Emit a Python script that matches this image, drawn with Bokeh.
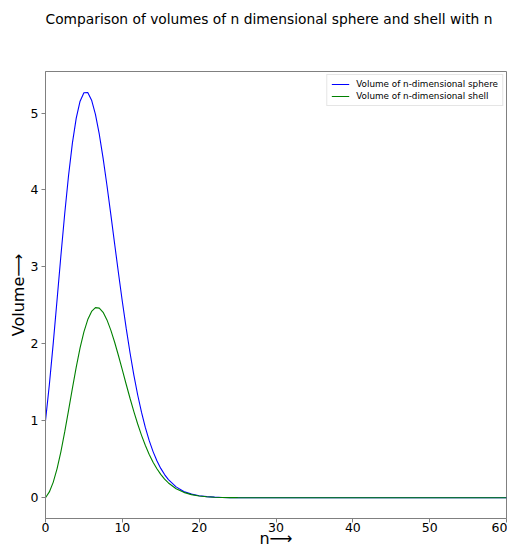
from bokeh.plotting import figure
from bokeh.models import Range1d, Legend, LegendItem, FixedTicker, Title
from bokeh.embed import file_html
from bokeh.resources import INLINE

# dimension n
n = [0, 0.5, 1, 1.5, 2, 2.5, 3, 3.5, 4, 4.5, 5, 5.5, 6, 6.5, 7, 7.5, 8, 8.5, 9, 9.5,
     10, 10.5, 11, 11.5, 12, 12.5, 13, 13.5, 14, 14.5, 15, 15.5, 16, 17, 18, 19, 20,
     21, 22, 23, 24, 25, 30, 40, 50, 60]
sphere = [1.0, 1.4688, 2.0, 2.5675, 3.1416, 3.6916, 4.1888, 4.6093, 4.9348, 5.1545,
          5.2638, 5.2659, 5.1677, 4.9828, 4.7248, 4.4117, 4.0587, 3.6834, 3.2985, 2.9179,
          2.5502, 2.2042, 1.8841, 1.5941, 1.3353, 1.1080, 0.9106, 0.7419, 0.5993, 0.4801,
          0.3814, 0.3008, 0.2353, 0.1409, 0.0821, 0.0466, 0.0258, 0.0139, 0.0073, 0.0038,
          0.0019, 0.0009, 0.0, 0.0, 0.0, 0.0]
shell = [0.0, 0.0754, 0.2, 0.3754, 0.5969, 0.8550, 1.1352, 1.4215, 1.6971, 1.9464,
         2.1555, 2.3159, 2.4216, 2.4705, 2.4649, 2.4101, 2.3114, 2.1791, 2.0207, 1.8456,
         1.6609, 1.4750, 1.2929, 1.1195, 0.9582, 0.8111, 0.6791, 0.5630, 0.4622, 0.3759,
         0.3029, 0.2421, 0.1917, 0.1174, 0.0698, 0.0403, 0.0227, 0.0124, 0.0066, 0.0035,
         0.0017, 0.0008, 0.0, 0.0, 0.0, 0.0]
x_ticks = [0, 10, 20, 30, 40, 50, 60]
y_ticks = [0, 1, 2, 3, 4, 5]

FONT = "DejaVu Sans"

p = figure(width=507, height=550, output_backend="svg", toolbar_location=None,
           x_range=Range1d(0, 60), y_range=Range1d(-0.27, 5.54),
           min_border_left=45, min_border_right=1, min_border_top=71, min_border_bottom=29)

p.title.text = "Comparison of volumes of n dimensional sphere and shell with n"
p.title.text_font = FONT
p.title.text_font_size = "13.8px"
p.title.text_font_style = "normal"
p.title.text_color = "black"
p.title.align = "left"
p.title.standoff = 0
p.title.offset = 0

# empty spacer between the title and the plot frame
spacer = Title(text=" ", text_font_size="39px", standoff=0)
p.add_layout(spacer, "above")

r1 = p.line(n, sphere, line_color="blue", line_width=1.1)
r2 = p.line(n, shell, line_color="green", line_width=1.1)

legend = Legend(items=[LegendItem(label="Volume of n-dimensional sphere", renderers=[r1]),
                       LegendItem(label="Volume of n-dimensional shell", renderers=[r2])],
                location="top_right", label_text_font=FONT, label_text_font_size="8.8px",
                label_text_color="black",
                label_height=10, glyph_height=10, glyph_width=18, spacing=2,
                padding=4, margin=3, border_line_color="#cccccc",
                label_standoff=7, background_fill_alpha=0.8)
p.add_layout(legend)

p.grid.visible = False
p.outline_line_color = "#808080"
p.outline_line_width = 1

for ax in (p.xaxis, p.yaxis):
    ax.axis_line_color = "#808080"
    ax.major_tick_line_color = "#808080"
    ax.minor_tick_line_color = None
    ax.major_tick_in = 0
    ax.major_tick_out = 4
    ax.major_label_text_font = FONT
    ax.major_label_text_font_size = "12.5px"
    ax.major_label_text_color = "black"
    ax.axis_label_text_font = FONT
    ax.axis_label_text_font_size = "16px"
    ax.axis_label_text_font_style = "normal"
    ax.axis_label_text_color = "black"

p.xaxis.ticker = FixedTicker(ticks=x_ticks)
p.yaxis.ticker = FixedTicker(ticks=y_ticks)
p.xaxis.axis_label = "n\u27f6"
p.yaxis.axis_label = "Volume\u27f6"
p.xaxis.axis_label_standoff = -6
p.xaxis.axis_label_text_line_height = 0.9
p.xaxis.major_label_text_line_height = 0.9
p.yaxis.axis_label_standoff = 0
p.xaxis.major_label_standoff = 0
p.yaxis.major_label_standoff = 3

open("out.html", "w").write(file_html(p, INLINE))
